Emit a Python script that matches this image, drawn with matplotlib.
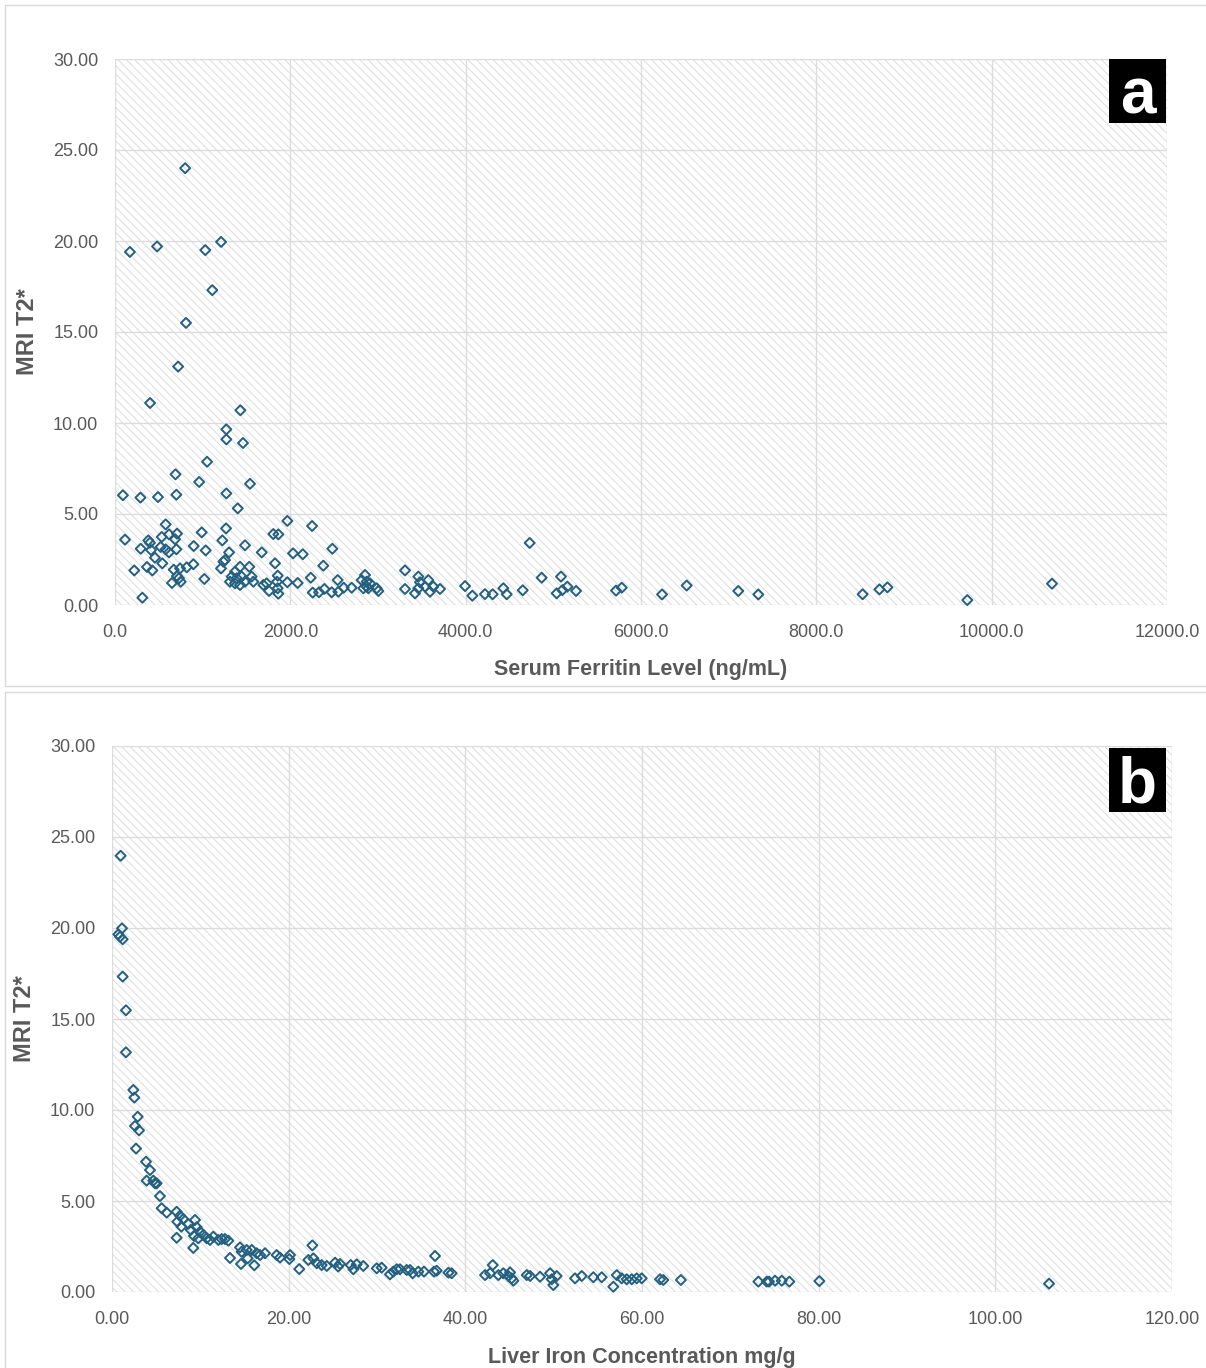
import matplotlib
matplotlib.use("Agg")
import matplotlib.pyplot as plt
from matplotlib.patches import Rectangle
from matplotlib.ticker import FormatStrFormatter

# panel a: serum ferritin vs MRI T2*
ferritin = [800, 170, 480, 1030, 1210, 1110, 810, 720, 400, 1430, 1270, 1270, 1460,
            1050, 690, 960, 1540, 90, 290, 490, 700, 1270, 1400,
            1966, 2248, 578, 1267, 114, 533, 616, 707, 685, 380, 399, 989, 1224, 1806,
            1863, 293, 411, 521, 578, 616, 700, 898, 1035, 1301, 1483, 1674, 2031, 2142,
            2479, 456, 220, 365, 426, 540, 670, 742, 818, 894, 707, 750, 650, 730, 1019,
            1209, 1236, 1255,
            1426, 1369, 1331, 1388, 1445, 1312, 1369, 1426, 1483, 1532, 1559, 1578,
            1692, 1757, 1730, 1856, 1848, 1856, 1863, 1825, 1966, 2084, 2233, 2376, 2255,
            2327, 2388, 2472, 2540, 2548, 2609, 312,
            2700, 2852, 2814, 2871, 2890, 2909, 2833, 2985, 3004, 2871, 3308, 3308, 3422,
            3460, 3479, 3460, 3536, 3574, 3593, 3631, 3707, 3993, 4076, 4220, 4308, 4430,
            4468, 4651, 4730, 4867,
            5038, 5087, 5103, 5160, 5259, 5715, 5780, 6240, 6521, 7110, 7338, 8528, 8720,
            8811, 9722, 10688]
ferritin_t2 = [24.0, 19.4, 19.7, 19.5, 19.95, 17.3, 15.5, 13.1, 11.1, 10.7, 9.65, 9.1, 8.9,
               7.87, 7.18, 6.76, 6.66, 6.03, 5.9, 5.93, 6.06, 6.13, 5.31,
               4.62, 4.34, 4.43, 4.21, 3.59, 3.74, 3.88, 3.92, 3.61, 3.55, 3.42, 3.99, 3.55, 3.90,
               3.88, 3.09, 3.02, 3.19, 3.06, 2.89, 3.06, 3.24, 3.0, 2.89, 3.28, 2.89, 2.84, 2.79,
               3.09, 2.6, 1.90, 2.09, 1.90, 2.29, 1.94, 2.01, 2.07, 2.24, 1.59, 1.28, 1.21, 1.47, 1.43,
               2.01, 2.38, 2.47,
               2.10, 1.83, 1.56, 1.47, 1.56, 1.28, 1.19, 1.10, 1.28, 2.10, 1.56, 1.28,
               1.10, 0.77, 1.19, 1.61, 1.28, 0.92, 0.62, 2.29, 1.25, 1.21, 1.50, 2.16, 0.68,
               0.70, 0.88, 0.70, 1.37, 0.73, 0.95, 0.40,
               0.95, 1.65, 1.37, 1.28, 0.92, 1.19, 0.92, 0.92, 0.77, 1.01, 1.90, 0.88, 0.64,
               1.56, 1.25, 0.92, 1.01, 1.37, 0.73, 1.01, 0.88, 1.04, 0.51, 0.60, 0.59, 0.92,
               0.59, 0.81, 3.41, 1.50,
               0.64, 1.56, 0.82, 1.01, 0.77, 0.79, 0.95, 0.58, 1.07, 0.77, 0.58, 0.59, 0.86,
               0.97, 0.27, 1.17]

# panel b: liver iron concentration vs MRI T2*
liver_iron = [0.98, 1.13, 0.72, 0.91, 1.21, 1.21, 1.58, 1.58, 2.41, 2.53, 2.91, 2.60, 3.06,
              2.72, 3.85, 4.30, 3.92, 4.68, 4.87, 5.06, 5.43, 5.62, 6.19,
              7.32, 7.70, 7.40, 8.07, 7.85, 8.64, 9.40, 8.91, 9.59, 9.96, 9.28, 9.77, 10.34,
              10.72, 11.09, 11.47, 12.04, 12.42, 12.79, 13.17, 7.32, 9.2,
              13.36, 14.49, 14.68, 15.25, 15.82, 16.38, 16.76, 17.32, 15.36, 14.6, 16.11,
              18.64, 19.02, 20.15, 20.08, 21.2, 22.68, 22.23, 22.8, 23.18, 23.74, 24.31,
              25.25, 25.81, 25.6,
              27.02, 27.32, 27.7, 28.45, 29.97, 30.53, 31.47, 31.85, 32.23, 32.6, 33.36,
              33.74, 34.04, 34.68, 35.32, 36.57, 36.45, 36.76, 38.08, 38.45,
              43.1, 42.23, 42.8, 43.74, 44.3, 45.06, 45.25, 45.44, 44.87, 46.95, 47.33,
              48.46, 49.59, 49.78, 49.96, 50.34, 52.42, 53.18, 54.49, 55.44, 57.14, 57.7,
              58.27, 58.84, 59.4, 59.97, 56.75, 62.04, 62.41, 64.4,
              73.17, 74.12, 74.38, 75.06, 75.82, 76.68, 80.08, 106.08]
liver_t2 = [23.97, 19.98, 19.65, 19.52, 19.38, 17.33, 15.48, 13.17, 11.1, 10.68, 9.63, 9.12, 8.88,
            7.88, 7.16, 6.70, 6.12, 6.12, 5.97, 5.97, 5.27, 4.60, 4.36,
            4.41, 4.19, 3.86, 4.01, 3.59, 3.74, 3.96, 3.41, 3.56, 3.31, 3.08, 2.95, 3.13,
            2.95, 2.86, 3.04, 2.86, 2.91, 2.91, 2.82, 2.98, 2.42,
            1.87, 2.45, 2.21, 2.31, 2.31, 2.13, 2.03, 2.13, 1.85, 1.54, 1.47,
            2.03, 1.89, 2.03, 1.81, 1.26, 2.56, 1.76, 1.85, 1.58, 1.48, 1.43,
            1.61, 1.54, 1.40,
            1.48, 1.25, 1.52, 1.43, 1.30, 1.34, 0.97, 1.12, 1.25, 1.25, 1.21,
            1.21, 1.03, 1.12, 1.12, 1.98, 1.12, 1.17, 1.06, 1.03,
            1.48, 0.93, 1.03, 0.93, 1.03, 1.08, 0.75, 0.62, 0.88, 0.93, 0.88,
            0.84, 1.03, 0.70, 0.38, 0.88, 0.75, 0.88, 0.81, 0.81, 0.93, 0.75,
            0.70, 0.70, 0.75, 0.75, 0.29, 0.70, 0.66, 0.66,
            0.57, 0.57, 0.57, 0.62, 0.62, 0.57, 0.60, 0.46]

W, H = 1206, 1368
GRAY = "#595959"
MARKER = "#24607f"
FONT = ["Liberation Sans", "DejaVu Sans"]

plt.rcParams["hatch.linewidth"] = 0.7

fig = plt.figure(figsize=(W / 100, H / 100), dpi=100)


def px_rect(x0, y0, x1, y1):
    # pixel box (top-left origin) -> figure fraction
    return [x0 / W, 1 - y1 / H, (x1 - x0) / W, (y1 - y0) / H]


def panel(box, frame, xs, ys, xmax, xstep, xfmt, xlabel, tag, tagbox):
    l, b, w, h = px_rect(*frame)
    fig.patches.append(Rectangle((l, b), w, h, transform=fig.transFigure,
                                 facecolor="none", edgecolor="#d9d9d9", lw=1.0))

    ax = fig.add_axes(px_rect(*box))
    ax.add_patch(Rectangle((0, 0), 1, 1, transform=ax.transAxes, facecolor="white",
                           edgecolor="#dcdcdc", hatch="\\\\\\\\", lw=0, zorder=0))
    ax.scatter(xs, ys, marker="D", s=26, facecolors="none", edgecolors=MARKER,
               linewidths=1.4, zorder=3, clip_on=False)

    ax.set_xlim(0, xmax)
    ax.set_ylim(0, 30)
    ax.set_xticks([i * xstep for i in range(7)])
    ax.set_yticks([0, 5, 10, 15, 20, 25, 30])
    ax.xaxis.set_major_formatter(FormatStrFormatter(xfmt))
    ax.yaxis.set_major_formatter(FormatStrFormatter("%.2f"))
    ax.set_axisbelow(True)
    ax.grid(True, color="#dcdcdc", lw=1.0)
    for s in ax.spines.values():
        s.set_visible(False)
    ax.tick_params(length=0, labelsize=13, labelcolor=GRAY)
    ax.tick_params(axis="x", pad=14)
    ax.tick_params(axis="y", pad=12)
    for t in ax.get_xticklabels() + ax.get_yticklabels():
        t.set_family(FONT)

    ax.set_xlabel(xlabel, fontsize=15.5, fontweight="bold", color=GRAY,
                  family=FONT, labelpad=13)
    ax.set_ylabel("MRI T2*", fontsize=17, fontweight="bold", color=GRAY,
                  family=FONT, labelpad=10)

    l, b, w, h = px_rect(*tagbox)
    fig.patches.append(Rectangle((l, b), w, h, transform=fig.transFigure,
                                 facecolor="black", edgecolor="none", zorder=5))
    fig.text(l + w / 2, b + h / 2 - 0.004, tag, ha="center", va="center", color="white",
             fontsize=46, fontweight="bold", family=FONT, zorder=6)
    return ax


panel((115, 59, 1167, 605), (5, 5, 1212, 686), ferritin, ferritin_t2, 12000, 2000,
      "%.1f", "Serum Ferritin Level (ng/mL)", "a", (1109, 59, 1166, 123))
panel((112, 746, 1172, 1292), (5, 692, 1212, 1372), liver_iron, liver_t2, 120, 20,
      "%.2f", "Liver Iron Concentration mg/g", "b", (1109, 748, 1166, 812))

fig.savefig("out.png", dpi=100)
